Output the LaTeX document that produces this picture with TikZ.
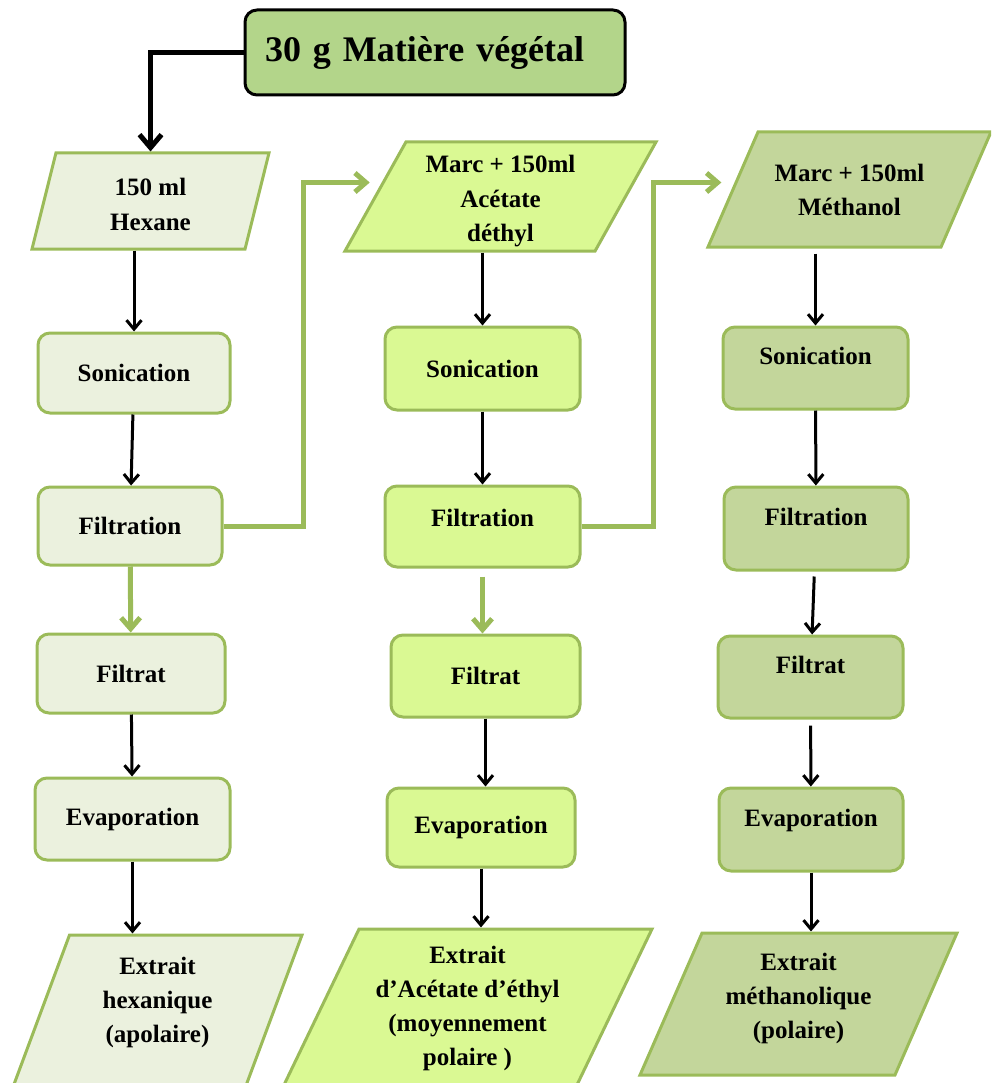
\documentclass[tikz,border=0pt]{standalone}
\usepackage{fontspec}
\setmainfont{Liberation Serif}
\usetikzlibrary{shapes.geometric}
\usetikzlibrary{arrows.meta}

\definecolor{bordvert}{HTML}{9BBB59}
\definecolor{fondhex}{HTML}{EBF1DE}
\definecolor{fondacet}{HTML}{DAF993}
\definecolor{fondmeth}{HTML}{C3D69B}
\definecolor{fondtitre}{HTML}{B3D58A}

\tikzset{
  etape/.style={rectangle,rounded corners=12pt,draw=bordvert,line width=3pt,%
    font=\fontsize{25}{33}\selectfont\bfseries,align=center},
  para/.style={trapezium,trapezium stretches body,draw=bordvert,line width=3pt,%
    font=\fontsize{25}{34}\selectfont\bfseries,align=center,inner sep=0pt},
  haut/.style={text depth=24pt},
  fl/.style={-{Straight Barb[length=9pt,width=15pt]},line width=3pt,black},
  flvert/.style={-{Straight Barb[length=11pt,width=19pt]},line width=5pt,bordvert},
  fltitre/.style={-{Straight Barb[length=13pt,width=22pt]},line width=5pt,black},
}

\begin{document}
\begin{tikzpicture}[x=1pt,y=-1pt]
      % cadre de la figure
      \useasboundingbox (0,0) rectangle (991,1083);
      \clip (0,0) rectangle (991,1083);

      \node[rectangle,rounded corners=12pt,draw=black,line width=3pt,%
        fill=fondtitre,minimum width=380pt,minimum height=85pt,%
        text width=340pt,align=left,%
        font=\fontsize{36}{40}\selectfont\bfseries] (titre) at (435,52.5){%
        30 g Matière végétal};

      % colonne hexane
      \node[para,fill=fondhex,trapezium left angle=76,trapezium right angle=104,%
        minimum width=237pt,text height=77pt,text depth=19pt] (hexane) at (150.5,201){%
        150 ml\\Hexane};
      \node[etape,fill=fondhex,minimum width=192pt,minimum height=80pt] (son1) at (134,373){%
        Sonication};
      \node[etape,fill=fondhex,minimum width=184pt,minimum height=78pt] (filt1) at (130,526){%
        Filtration};
      \node[etape,fill=fondhex,minimum width=188pt,minimum height=79pt] (filtrat1) at (131,673.5){%
        Filtrat};
      \node[etape,fill=fondhex,minimum width=195pt,minimum height=82pt] (evap1) at (132.5,819){%
        Evaporation};
      \node[para,fill=fondhex,trapezium left angle=69.6,trapezium right angle=110.4,%
        minimum width=289pt,text height=107pt,text depth=45pt] (ext1) at (157.5,1011){%
        Extrait\\hexanique\\(apolaire)};

      % colonne acetate d'ethyle
      \node[para,fill=fondacet,trapezium left angle=60.8,trapezium right angle=119.2,%
        minimum width=311pt,text height=99pt,text depth=10pt] (acetate) at (500.5,196.5){%
        Marc + 150ml\\Acétate\\déthyl};
      \node[etape,fill=fondacet,minimum width=195pt,minimum height=83pt] (son2) at (482.5,368.5){%
        Sonication};
      \node[etape,fill=fondacet,minimum width=195pt,minimum height=81pt,%
        text depth=18pt] (filt2) at (482.5,526.5){%
        Filtration};
      \node[etape,fill=fondacet,minimum width=189pt,minimum height=82pt] (filtrat2) at (485.5,676){%
        Filtrat};
      \node[etape,fill=fondacet,minimum width=188pt,minimum height=79pt] (evap2) at (481,827.5){%
        Evaporation};
      \node[para,fill=fondacet,trapezium left angle=64.3,trapezium right angle=115.7,%
        minimum width=369pt,text height=136pt,text depth=22pt] (ext2) at (467.5,1008){%
        Extrait\\d’Acétate d’éthyl\\(moyennement\\polaire )};

      % colonne methanol
      \node[para,fill=fondmeth,trapezium left angle=66.5,trapezium right angle=113.5,%
        minimum width=283pt,text height=84pt,text depth=31pt] (methanol) at (849.5,189.5){%
        Marc + 150ml\\Méthanol};
      \node[etape,haut,fill=fondmeth,minimum width=185pt,minimum height=82pt] (son3) at (815.5,368){%
        Sonication};
      \node[etape,haut,fill=fondmeth,minimum width=184pt,minimum height=83pt] (filt3) at (816,528.5){%
        Filtration};
      \node[etape,haut,fill=fondmeth,minimum width=185pt,minimum height=82pt] (filtrat3) at (810.5,677){%
        Filtrat};
      \node[etape,haut,fill=fondmeth,minimum width=184pt,minimum height=83pt] (evap3) at (811,829.5){%
        Evaporation};
      \node[para,fill=fondmeth,trapezium left angle=66.4,trapezium right angle=113.6,%
        minimum width=317pt,text height=105pt,text depth=37pt] (ext3) at (798.5,1004){%
        Extrait\\méthanolique\\(polaire)};

      % fleches
      \draw[fltitre] (titre.west) -| (hexane.north);

      \draw[fl] (hexane.south -| son1.north) -- (son1.north);
      \draw[fl] (son1) -- (filt1);
      \draw[flvert] (filt1) -- (filtrat1);
      \draw[fl] (filtrat1) -- (evap1);
      \draw[fl] (evap1.south) -- (evap1.south |- ext1.north);

      \draw[fl] (acetate.south -| son2.north) -- (son2.north);
      \draw[fl] (son2) -- (filt2);
      \draw[flvert,shorten <=8pt] (filt2.south) -- (filt2.south |- filtrat2.north);
      \draw[fl] (filtrat2.north |- filtrat2.south) -- (filtrat2.north |- evap2.north);
      \draw[fl] (evap2.south) -- (evap2.south |- ext2.north);

      \draw[fl,shorten <=5pt] (methanol.south -| son3.north) -- (son3.north);
      \draw[fl] (son3) -- (filt3);
      \draw[fl,shorten <=5pt] (filt3) -- (filtrat3);
      \draw[fl,shorten <=6pt] (filtrat3) -- (evap3);
      \draw[fl] (evap3.south) -- (evap3.south |- ext3.north);

      \draw[flvert] (filt1.east) -- ++(80,0) |- ([xshift=-4pt,yshift=14pt]acetate.left side);
      \draw[flvert] (filt2.east) -- ++(72,0) |- ([xshift=-10pt,yshift=7pt]methanol.left side);
    \end{tikzpicture}
\end{document}
